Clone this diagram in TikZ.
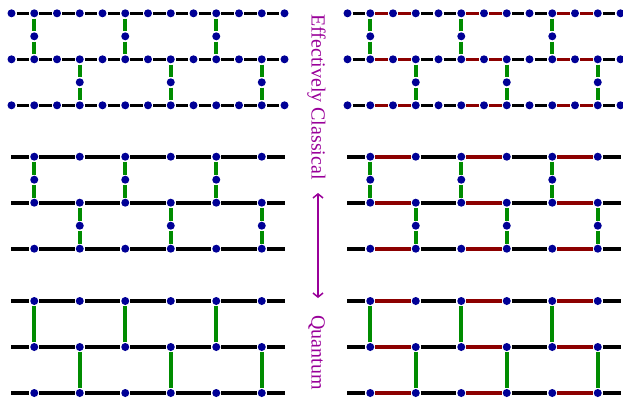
\documentclass[tikz,border=0pt]{standalone}
\usepackage{fontspec}
\setmainfont{Liberation Serif}
\usetikzlibrary{arrows.meta}
\definecolor{dotblue}{RGB}{0,0,150}
\definecolor{bondgreen}{RGB}{0,140,0}
\definecolor{bondred}{RGB}{140,0,0}
\definecolor{labelpurple}{RGB}{153,0,153}
\tikzset{
  dot/.style={circle, fill=dotblue, inner sep=0pt, minimum size=8pt, outer sep=1.2pt},
  hbond/.style={line width=3.6pt, black},
  rbond/.style={line width=3.6pt, bondred},
  vbond/.style={line width=3.6pt, bondgreen},
  sidelabel/.style={rotate=-90, anchor=base, text=labelpurple, font=\fontsize{20}{22}\selectfont},
  scalearrow/.style={draw=labelpurple, line width=1.5pt, {Straight Barb[length=4pt,width=10pt]}-{Straight Barb[length=4pt,width=10pt]}}
}
\begin{document}
\begin{tikzpicture}[x=1pt,y=-1pt]
\useasboundingbox (0,0) rectangle (623,399);

% ---------------- top panels (fine lattice) ----------------
\foreach \P/\dx in {A/0,B/336} {
  \foreach \r in {0,1,2} {
    \foreach \k in {0,...,12} {
      \node[dot] (\P\r-\k) at ({\dx+11.5+22.75*\k},{13.3+46*\r}) {};
    }
  }
  \foreach \k in {1,5,9} {
    \node[dot] (\P v0-\k) at ({\dx+11.5+22.75*\k},36.3) {};
  }
  \foreach \k in {3,7,11} {
    \node[dot] (\P v1-\k) at ({\dx+11.5+22.75*\k},82.3) {};
  }
}
% horizontal bonds, left: all black
\foreach \r in {0,1,2} {
  \foreach \k [evaluate=\k as \n using int(\k+1)] in {0,...,11} {
    \draw[hbond] (A\r-\k) -- (A\r-\n);
  }
}
% horizontal bonds, right: black and red
\foreach \r in {0,1,2} {
  \foreach \k [evaluate=\k as \n using int(\k+1)] in {0,3,4,7,8,11} {
    \draw[hbond] (B\r-\k) -- (B\r-\n);
  }
  \foreach \k [evaluate=\k as \n using int(\k+1)] in {1,2,5,6,9,10} {
    \draw[rbond] (B\r-\k) -- (B\r-\n);
  }
}
% vertical bonds
\foreach \P in {A,B} {
  \foreach \k in {1,5,9} {
    \draw[vbond] (\P0-\k) -- (\P v0-\k);
    \draw[vbond] (\P v0-\k) -- (\P1-\k);
  }
  \foreach \k in {3,7,11} {
    \draw[vbond] (\P1-\k) -- (\P v1-\k);
    \draw[vbond] (\P v1-\k) -- (\P2-\k);
  }
}

% ---------------- middle and bottom panels ----------------
\foreach \P/\dx/\y in {C/0/156.7,D/336/156.7,E/0/301,F/336/301} {
  \foreach \r in {0,1,2} {
    \coordinate (\P\r-s) at ({\dx+11},{\y+46*\r});
    \coordinate (\P\r-e) at ({\dx+285},{\y+46*\r});
    \foreach \k in {1,3,5,7,9,11} {
      \node[dot] (\P\r-\k) at ({\dx+11.5+22.75*\k},{\y+46*\r}) {};
    }
  }
}
% middle dots on vertical bonds (middle panels only)
\foreach \P/\dx in {C/0,D/336} {
  \foreach \k in {1,5,9} {
    \node[dot] (\P v0-\k) at ({\dx+11.5+22.75*\k},179.7) {};
  }
  \foreach \k in {3,7,11} {
    \node[dot] (\P v1-\k) at ({\dx+11.5+22.75*\k},225.7) {};
  }
}
% horizontal bonds left (all black)
\foreach \P in {C,E} {
  \foreach \r in {0,1,2} {
    \draw[hbond] (\P\r-s) -- (\P\r-1);
    \foreach \k [evaluate=\k as \n using int(\k+2)] in {1,3,5,7,9} {
      \draw[hbond] (\P\r-\k) -- (\P\r-\n);
    }
    \draw[hbond] (\P\r-11) -- (\P\r-e);
  }
}
% horizontal bonds right (red and black)
\foreach \P in {D,F} {
  \foreach \r in {0,1,2} {
    \draw[hbond] (\P\r-s) -- (\P\r-1);
    \foreach \k [evaluate=\k as \n using int(\k+2)] in {1,5,9} {
      \draw[rbond] (\P\r-\k) -- (\P\r-\n);
    }
    \foreach \k [evaluate=\k as \n using int(\k+2)] in {3,7} {
      \draw[hbond] (\P\r-\k) -- (\P\r-\n);
    }
    \draw[hbond] (\P\r-11) -- (\P\r-e);
  }
}
% vertical bonds with middle dots
\foreach \P in {C,D} {
  \foreach \k in {1,5,9} {
    \draw[vbond] (\P0-\k) -- (\P v0-\k);
    \draw[vbond] (\P v0-\k) -- (\P1-\k);
  }
  \foreach \k in {3,7,11} {
    \draw[vbond] (\P1-\k) -- (\P v1-\k);
    \draw[vbond] (\P v1-\k) -- (\P2-\k);
  }
}
% vertical bonds without middle dots
\foreach \P in {E,F} {
  \foreach \k in {1,5,9} {
    \draw[vbond] (\P0-\k) -- (\P1-\k);
  }
  \foreach \k in {3,7,11} {
    \draw[vbond] (\P1-\k) -- (\P2-\k);
  }
}

% ---------------- side labels ----------------
\node[sidelabel] (classical) at (311.5,97) {Effectively Classical};
\node[sidelabel] (quantum) at (311.5,352.5) {Quantum};
\coordinate (arrowtop) at (318,193);
\coordinate (arrowbot) at (318,298);
\draw[scalearrow] (arrowtop) -- (arrowbot);
\end{tikzpicture}
\end{document}
